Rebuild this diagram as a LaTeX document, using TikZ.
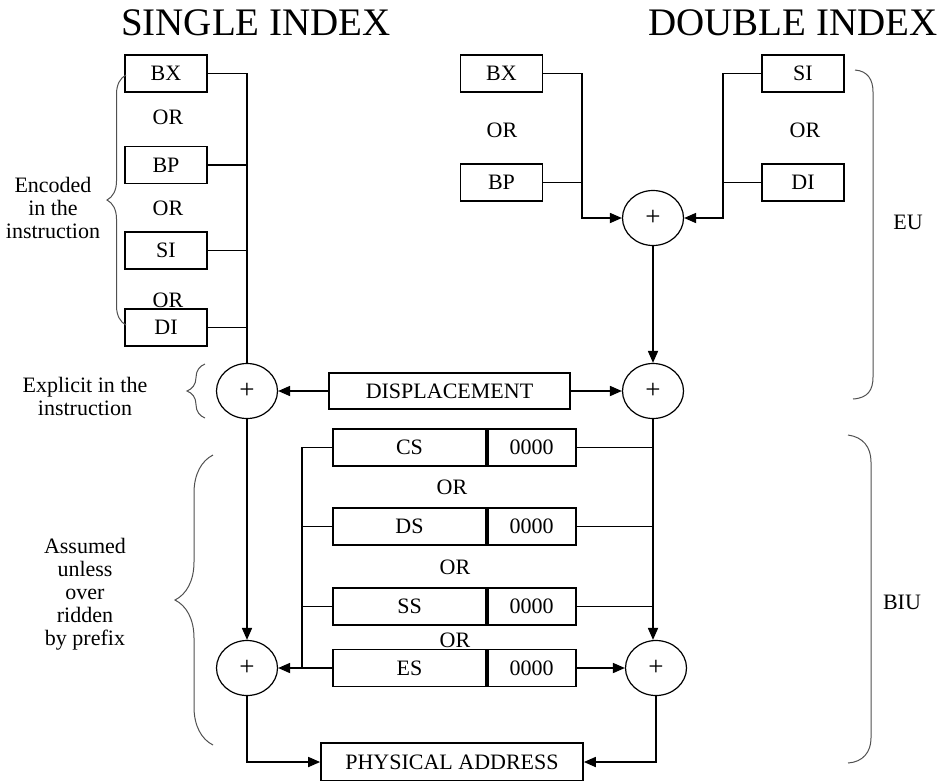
\documentclass[tikz,border=0pt]{standalone}
\usepackage{fontspec}
\setmainfont{Liberation Serif}
\usepackage{tikz}
\usetikzlibrary{arrows.meta, positioning, shapes.geometric, decorations.pathreplacing}
\usepackage{xcolor}
\definecolor{bracegray}{RGB}{80, 80, 80}

\begin{document}
\begin{tikzpicture}[
  x=1pt, y=-1pt,
  line width=1.7pt,
  reg/.style={rectangle, draw, minimum width=82pt, minimum height=37pt,
              inner sep=0pt, font=\fontsize{22}{24}\selectfont},
  seg/.style={reg, minimum width=153pt},
  zero/.style={reg, minimum width=88pt},
  adder/.style={ellipse, draw, line width=1.2pt, minimum width=61pt,
                minimum height=55pt, inner sep=0pt, font=\fontsize{27}{28}\selectfont},
  orlabel/.style={font=\fontsize{22}{24}\selectfont},
  heading/.style={anchor=base, font=\fontsize{39}{44}\selectfont},
  side/.style={align=center, font=\fontsize{22}{23}\selectfont},
  arrow/.style={-{Triangle[length=12pt, width=10pt]}},
  curly/.style={decorate, decoration={brace, amplitude=#1},
                draw=bracegray, line width=1pt}
]
  \useasboundingbox (0,0) rectangle (949,780);

  % headings
  \node[heading] (single) at (256,35) {SINGLE INDEX};
  \node[heading] (double) at (793,35) {DOUBLE INDEX};

  % single index
  \node[reg] (sbx) at (166,73.5) {BX};
  \node[orlabel] (sor1) at (168,117) {OR};
  \node[reg] (sbp) at (166,165) {BP};
  \node[orlabel] (sor2) at (168,208) {OR};
  \node[reg] (ssi) at (166,250.5) {SI};
  \node[orlabel] (sor3) at (168,300) {OR};
  \node[reg] (sdi) at (166,327.5) {DI};

  \node[adder] (ssum1) at (247,391) {+};
  \node[adder] (ssum2) at (247,668) {+};

  \draw (sbx.east) -| (ssum1.north);
  \draw (sbp.east) -- (sbp.east -| ssum1.north);
  \draw (ssi.east) -- (ssi.east -| ssum1.north);
  \draw (sdi.east) -- (sdi.east -| ssum1.north);
  \draw[arrow] (ssum1) -- (ssum2);

  % double index
  \node[reg] (dbx) at (501.5,73.5) {BX};
  \node[orlabel] (dor1) at (502,130) {OR};
  \node[reg] (dbp) at (501.5,182.5) {BP};
  \node[reg] (dsi) at (803,73.5) {SI};
  \node[orlabel] (dor2) at (805,130) {OR};
  \node[reg] (ddi) at (803,182.5) {DI};

  \node[adder] (dsum1) at (653,218) {+};
  \node[adder] (dsum2) at (653,391) {+};
  \node[adder] (dsum3) at (656,668) {+};

  \coordinate (lbus) at (582,218);
  \coordinate (rbus) at (723,218);
  \draw[arrow] (dbx.east) -| (lbus) -- (dsum1);
  \draw (dbp.east) -- (dbp.east -| lbus);
  \draw[arrow] (dsi.west) -| (rbus) -- (dsum1);
  \draw (ddi.west) -- (ddi.west -| rbus);
  \draw[arrow] (dsum1) -- (dsum2);

  % displacement
  \node[reg, minimum width=241pt, minimum height=36pt] (disp) at (449.5,391) {DISPLACEMENT};
  \draw[arrow] (disp) -- (ssum1);
  \draw[arrow] (disp) -- (dsum2);

  % segment registers
  \node[seg] (cs) at (409.5,447.5) {CS};
  \node[zero, right=0pt of cs] (cs0) {0000};
  \node[orlabel] (or1) at (452,487) {OR};
  \node[seg] (ds) at (409.5,526.5) {DS};
  \node[zero, right=0pt of ds] (ds0) {0000};
  \node[orlabel] (or2) at (455,567) {OR};
  \node[seg] (ss) at (409.5,606.5) {SS};
  \node[zero, right=0pt of ss] (ss0) {0000};
  \node[orlabel] (or3) at (455,640) {OR};
  \node[seg] (es) at (409.5,668) {ES};
  \node[zero, right=0pt of es] (es0) {0000};

  \coordinate (sbus) at (302,668);
  \draw[arrow] (cs.west) -| (sbus) -- (ssum2);
  \draw (ds.west) -- (ds.west -| sbus);
  \draw (ss.west) -- (ss.west -| sbus);
  \draw (es.west) -- (sbus);

  \draw[arrow] (dsum2) -- (dsum2 |- dsum3.north);
  \draw (cs0.east) -- (cs0.east -| dsum2);
  \draw (ds0.east) -- (ds0.east -| dsum2);
  \draw (ss0.east) -- (ss0.east -| dsum2);
  \draw[arrow] (es0) -- (dsum3);

  % physical address
  \node[reg, minimum width=262pt, minimum height=38pt] (phys) at (452,762) {PHYSICAL ADDRESS};
  \draw[arrow] (ssum2) |- (phys);
  \draw[arrow] (dsum3) |- (phys);

  % side notes
  \node[side] (encoded) at (53,208) {Encoded\\in the\\instruction};
  \draw[curly=19] (126,325) -- (126,75);
  \node[side] (explicit) at (85,396) {Explicit in the\\instruction};
  \draw[curly=18] (205,418) -- (205,364);
  \node[side] (assumed) at (85,594) {Assumed\\unless\\over\\ridden\\by prefix};
  \draw[curly=38] (213,745) -- (213,455);

  \draw[bracegray, line width=1pt] (855,70) .. controls (868,71) and (873,80) .. (873,92)
    -- (873,377) .. controls (873,390) and (868,398) .. (853,399);
  \node[orlabel] (eu) at (908,222) {EU};
  \draw[bracegray, line width=1pt] (848,435) .. controls (863,437) and (871,447) .. (871,462)
    -- (871,738) .. controls (871,752) and (863,762) .. (848,763);
  \node[orlabel] (biu) at (902,602) {BIU};
\end{tikzpicture}
\end{document}
